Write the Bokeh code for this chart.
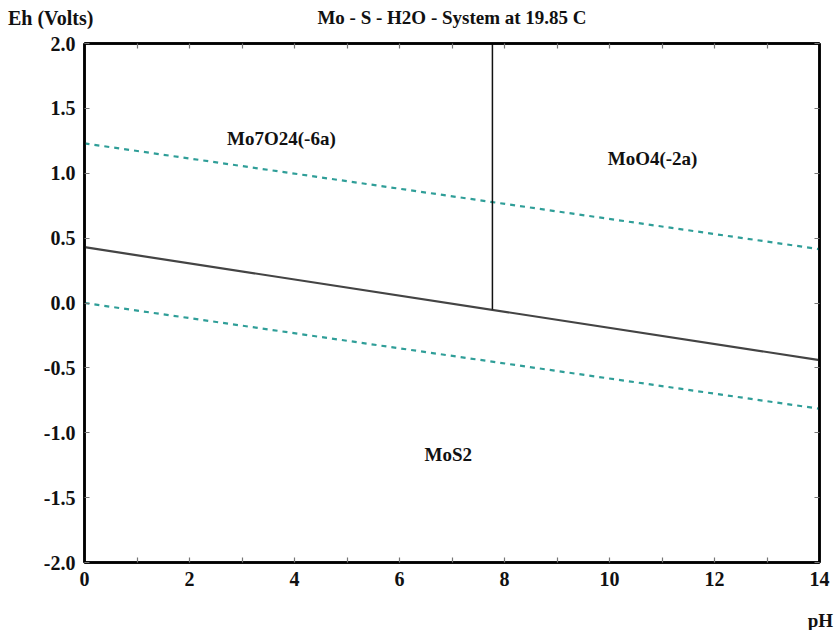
from bokeh.plotting import figure
from bokeh.layouts import column
from bokeh.models import (Range1d, LinearAxis, FixedTicker, PrintfTickFormatter,
                          ColumnDataSource, Div)
from bokeh.core.properties import value
from bokeh.embed import file_html
from bokeh.resources import INLINE

# ---- data ----
ph_ends = [0.0, 14.0]
o2_water = [1.23, 0.415]        # upper water stability line
h2_water = [0.0, -0.815]        # lower water stability line
mos2_boundary = [0.43, -0.44]   # MoS2 / oxidised species boundary
vert_ph = [7.77, 7.77]
vert_eh = [-0.05, 2.0]

species = ["Mo7O24(-6a)", "MoO4(-2a)", "MoS2"]
species_ph = [3.75, 10.82, 6.93]
species_eh = [1.27, 1.11, -1.17]

x_ticks = [0, 2, 4, 6, 8, 10, 12, 14]
x_minor = [1, 3, 5, 7, 9, 11, 13]
y_ticks = [-2.0, -1.5, -1.0, -0.5, 0.0, 0.5, 1.0, 1.5, 2.0]

title_text = "Mo - S - H2O - System at 19.85 C"
y_caption = "Eh (Volts)"
x_caption = "pH"

FONT = "Liberation Serif"
W = 836
HEAD_H, MAIN_H, FOOT_H = 28, 572, 28
LEFT, RIGHT = 84, 17
FRAME_TOP, FRAME_BOTTOM = 43, 562          # page pixels

base = ("font-family:'Liberation Serif',serif;font-weight:bold;color:#111111;"
        "position:absolute;white-space:nowrap;margin:0;padding:0;")

header = Div(width=W, height=HEAD_H, margin=0, text=(
    f'<div style="position:relative;width:{W}px;height:{HEAD_H}px;margin:0;">'
    f'<span style="{base}left:8px;top:8px;font-size:20px;line-height:20px;">'
    f'{y_caption}</span>'
    f'<span style="{base}left:452px;top:8px;transform:translateX(-50%);'
    f'font-size:19px;line-height:19px;">{title_text}</span></div>'))

footer = Div(width=W, height=FOOT_H, margin=0, text=(
    f'<div style="position:relative;width:{W}px;height:{FOOT_H}px;margin:0;">'
    f'<span style="{base}right:3px;top:11px;font-size:19px;line-height:19px;">'
    f'{x_caption}</span></div>'))

p = figure(width=W, height=MAIN_H, output_backend="svg", toolbar_location=None,
           x_range=Range1d(0, 14), y_range=Range1d(-2, 2),
           x_axis_location=None, y_axis_location=None,
           min_border_left=LEFT, min_border_right=RIGHT,
           min_border_top=FRAME_TOP - HEAD_H,
           min_border_bottom=HEAD_H + MAIN_H - FRAME_BOTTOM)
p.background_fill_color = "white"
p.border_fill_color = "white"
p.outline_line_color = "black"
p.outline_line_width = 2.5
p.xgrid.visible = False
p.ygrid.visible = False


def style_axis(ax, ticks, minor, fmt, labels=True):
    ax.ticker = FixedTicker(ticks=ticks, minor_ticks=minor)
    ax.formatter = PrintfTickFormatter(format=fmt)
    ax.axis_line_color = "black"
    ax.axis_line_width = 2.5
    ax.major_tick_in = 5
    ax.major_tick_out = 0
    ax.minor_tick_in = 5
    ax.minor_tick_out = 0
    ax.major_tick_line_color = "#777777"
    ax.minor_tick_line_color = "#777777"
    ax.major_tick_line_width = 1.2
    ax.minor_tick_line_width = 1.2
    ax.major_label_text_font = FONT
    ax.major_label_text_font_style = "bold"
    ax.major_label_text_font_size = "20px"
    ax.major_label_text_color = "#111111"
    ax.major_label_standoff = 9
    if not labels:
        ax.major_label_overrides = {t: "" for t in ticks}
        ax.major_label_standoff = 0


bx = LinearAxis(); style_axis(bx, x_ticks, x_minor, "%d")
tx = LinearAxis(); style_axis(tx, x_ticks, x_minor, "%d", labels=False)
ly = LinearAxis(); style_axis(ly, y_ticks, [], "%.1f")
ry = LinearAxis(); style_axis(ry, y_ticks, [], "%.1f", labels=False)
p.add_layout(bx, "below")
p.add_layout(tx, "above")
p.add_layout(ly, "left")
p.add_layout(ry, "right")

teal = "#2f9e98"
p.line(ph_ends, o2_water, line_color=teal, line_width=2.2, line_dash="5 5")
p.line(ph_ends, h2_water, line_color=teal, line_width=2.2, line_dash="5 5")
p.line(ph_ends, mos2_boundary, line_color="#444444", line_width=2.2)
p.line(vert_ph, vert_eh, line_color="#111111", line_width=1.5)

src = ColumnDataSource(dict(x=species_ph, y=species_eh, t=species))
p.text(x="x", y="y", text="t", source=src, text_font=value(FONT),
       text_font_style="bold", text_font_size="19px", text_color="#111111",
       text_align="center", text_baseline="middle")

layout = column(header, p, footer, spacing=0)
open("out.html", "w").write(file_html(layout, INLINE))
